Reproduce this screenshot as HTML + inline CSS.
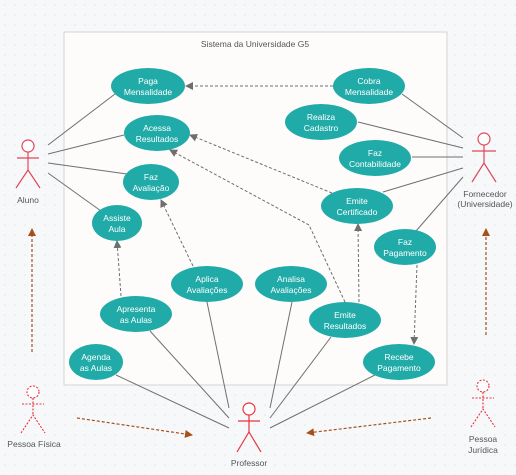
<!DOCTYPE html>
<html><head><meta charset="utf-8"><style>
html,body{margin:0;padding:0;background:#f7f8fa}
svg{display:block;font-family:"Liberation Sans","DejaVu Sans",sans-serif}
</style></head><body>
<svg width="516" height="475" viewBox="0 0 516 475" xmlns="http://www.w3.org/2000/svg">
<defs>
<pattern id="dots" width="10" height="10" patternUnits="userSpaceOnUse"><circle cx="5" cy="5" r="0.6" fill="#d6d9de"/></pattern>
<marker id="ga" markerWidth="8" markerHeight="8" refX="7" refY="4" orient="auto" markerUnits="userSpaceOnUse"><path d="M0,0 L8,4 L0,8z" fill="#6e6e6e"/></marker>
<marker id="ba" markerWidth="8" markerHeight="8" refX="7" refY="4" orient="auto" markerUnits="userSpaceOnUse"><path d="M0,0 L8,4 L0,8z" fill="#a8501a"/></marker>
</defs>
<rect width="516" height="475" fill="#f7f8fa"/>
<rect width="516" height="475" fill="url(#dots)"/>
<rect x="64" y="32" width="383" height="353" fill="#fdfcfb" stroke="#d3d3d3" stroke-width="1"/>
<text x="255" y="47" font-size="8.5" fill="#555" text-anchor="middle">Sistema da Universidade G5</text>

<g stroke="#707070" stroke-width="1" fill="none">
<line x1="48" y1="145" x2="115" y2="94"/>
<line x1="48" y1="154" x2="124" y2="135"/>
<line x1="48" y1="163" x2="127" y2="174"/>
<line x1="48" y1="173" x2="101" y2="211"/>
<line x1="463" y1="138" x2="402" y2="94"/>
<line x1="463" y1="148" x2="358" y2="122"/>
<line x1="463" y1="157" x2="412" y2="157"/>
<line x1="463" y1="168" x2="383" y2="192"/>
<line x1="463" y1="177" x2="416" y2="231"/>
<line x1="229" y1="428" x2="116" y2="375"/>
<line x1="229" y1="418" x2="150" y2="331"/>
<line x1="229" y1="408" x2="207" y2="302"/>
<line x1="270" y1="408" x2="292" y2="302"/>
<line x1="270" y1="418" x2="331" y2="337"/>
<line x1="270" y1="428" x2="375" y2="375"/>
</g>
<g stroke="#6e6e6e" stroke-width="1" fill="none" stroke-dasharray="3,2">
<line x1="333" y1="86" x2="186" y2="86" marker-end="url(#ga)"/>
<line x1="332" y1="193" x2="190" y2="135" marker-end="url(#ga)"/>
<polyline points="345,302 309,225 170,150" marker-end="url(#ga)"/>
<line x1="359" y1="302" x2="358" y2="224" marker-end="url(#ga)"/>
<line x1="193" y1="266" x2="161" y2="200" marker-end="url(#ga)"/>
<line x1="121" y1="296" x2="117" y2="241" marker-end="url(#ga)"/>
<line x1="417" y1="265" x2="414" y2="344" marker-end="url(#ga)"/>
</g>
<g stroke="#a8501a" stroke-width="1.2" fill="none" stroke-dasharray="3,2">
<line x1="32" y1="352" x2="32" y2="229" marker-end="url(#ba)"/>
<line x1="77" y1="418" x2="192" y2="435" marker-end="url(#ba)"/>
<line x1="431" y1="418" x2="307" y2="433" marker-end="url(#ba)"/>
<line x1="486" y1="335" x2="486" y2="229" marker-end="url(#ba)"/>
</g>

<g fill="#21aba8">
<ellipse cx="148" cy="86" rx="37" ry="18"/>
<ellipse cx="157" cy="133" rx="33" ry="18"/>
<ellipse cx="151" cy="182" rx="28" ry="18"/>
<ellipse cx="117" cy="223" rx="25" ry="18"/>
<ellipse cx="369" cy="86" rx="36" ry="18"/>
<ellipse cx="321" cy="122" rx="36" ry="18"/>
<ellipse cx="375" cy="158" rx="36" ry="18"/>
<ellipse cx="357" cy="206" rx="36" ry="18"/>
<ellipse cx="405" cy="247" rx="31" ry="18"/>
<ellipse cx="207" cy="284" rx="36" ry="18"/>
<ellipse cx="291" cy="284" rx="36" ry="18"/>
<ellipse cx="136" cy="314" rx="36" ry="18"/>
<ellipse cx="345" cy="320" rx="36" ry="18"/>
<ellipse cx="96" cy="362" rx="27" ry="18"/>
<ellipse cx="399" cy="362" rx="36" ry="18"/>
</g>
<g fill="#fff" font-size="8.5" text-anchor="middle">
<text x="148" y="84">Paga</text><text x="148" y="95">Mensalidade</text>
<text x="157" y="131">Acessa</text><text x="157" y="142">Resultados</text>
<text x="151" y="180">Faz</text><text x="151" y="191">Avaliação</text>
<text x="117" y="221">Assiste</text><text x="117" y="232">Aula</text>
<text x="369" y="84">Cobra</text><text x="369" y="95">Mensalidade</text>
<text x="321" y="120">Realiza</text><text x="321" y="131">Cadastro</text>
<text x="375" y="156">Faz</text><text x="375" y="167">Contabilidade</text>
<text x="357" y="204">Emite</text><text x="357" y="215">Certificado</text>
<text x="405" y="245">Faz</text><text x="405" y="256">Pagamento</text>
<text x="207" y="282">Aplica</text><text x="207" y="293">Avaliações</text>
<text x="291" y="282">Analisa</text><text x="291" y="293">Avaliações</text>
<text x="136" y="312">Apresenta</text><text x="136" y="323">as Aulas</text>
<text x="345" y="318">Emite</text><text x="345" y="329">Resultados</text>
<text x="96" y="360">Agenda</text><text x="96" y="371">as Aulas</text>
<text x="399" y="360">Recebe</text><text x="399" y="371">Pagamento</text>
</g>

<g stroke="#e0485a" stroke-width="1.2" fill="none">
<circle cx="28" cy="146" r="6" fill="#fff"/>
<line x1="28" y1="152" x2="28" y2="170"/><line x1="17" y1="158" x2="39" y2="158"/>
<polyline points="16,188 28,170 40,188"/>
<circle cx="484" cy="139" r="6" fill="#fff"/>
<line x1="484" y1="145" x2="484" y2="163"/><line x1="472" y1="151" x2="496" y2="151"/>
<polyline points="472,182 484,163 496,182"/>
</g>
<g stroke="#e8323c" stroke-width="1.2" fill="none">
<circle cx="249" cy="409" r="6" fill="#fff"/>
<line x1="249" y1="415" x2="249" y2="432"/><line x1="238" y1="421" x2="260" y2="421"/>
<polyline points="237,452 249,432 261,452"/>
</g>
<g stroke="#e8323c" stroke-width="1.1" fill="none" stroke-dasharray="2,1.5">
<circle cx="33" cy="392" r="6" fill="#fff"/>
<line x1="33" y1="398" x2="33" y2="415"/><line x1="22" y1="404" x2="44" y2="404"/>
<polyline points="21,433 33,415 45,433"/>
<circle cx="483" cy="386" r="6" fill="#fff"/>
<line x1="483" y1="392" x2="483" y2="409"/><line x1="472" y1="398" x2="494" y2="398"/>
<polyline points="471,427 483,409 495,427"/>
</g>
<g fill="#555" font-size="8.5" text-anchor="middle">
<text x="28" y="203">Aluno</text>
<text x="485" y="197">Fornecedor</text><text x="485" y="207">(Universidade)</text>
<text x="249" y="466">Professor</text>
<text x="34" y="447">Pessoa Física</text>
<text x="483" y="442">Pessoa</text><text x="483" y="453">Jurídica</text>
</g>
</svg>
</body></html>
